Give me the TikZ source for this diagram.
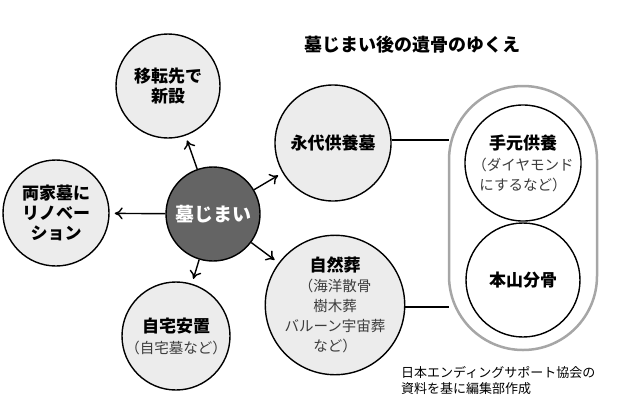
\documentclass[tikz,border=0pt]{standalone}
\usepackage{fontspec}
\setmainfont{Noto Sans CJK JP}
\usetikzlibrary{arrows.meta}
\definecolor{circfill}{RGB}{236,236,236}
\definecolor{centerfill}{RGB}{100,100,100}
\definecolor{textgray}{RGB}{60,60,60}
\newcommand{\subtxt}{\fontsize{14.5}{16}\selectfont\mdseries\color{textgray}}
\tikzset{
  bubble/.style={circle, draw, line width=1.4pt, fill=circfill, align=center, inner sep=0pt, font=\fontsize{17}{20}\selectfont\bfseries},
  arr/.style={-{To[length=8pt,width=12pt]}, line width=1.4pt, shorten >=5pt},
}
\begin{document}
\begin{tikzpicture}[x=1pt,y=-1pt]
  \useasboundingbox (0,0) rectangle (620,413);
  % Title
  \node[font=\fontsize{18}{22}\selectfont\bfseries] (title) at (412,45) {墓じまい後の遺骨のゆくえ};
  % Capsule
  \draw[line width=2.5pt, draw=gray!70, rounded corners=74pt] (449,86) rectangle (597,350);
  \node[bubble, minimum size=114pt, fill=white] (temoto) at (523,163) {手元供養\\[1pt]\subtxt（ダイヤモンド\\\subtxt にするなど）};
  \node[bubble, minimum size=114pt, fill=white] (honzan) at (523,280) {本山分骨};
  % Center
  \node[bubble, minimum size=94pt, fill=centerfill, text=white, font=\fontsize{19}{22}\selectfont\bfseries] (center) at (213,214) {墓じまい};
  % Outer circles
  \node[bubble, minimum size=104pt] (iten) at (168,86) {移転先で\\新設};
  \node[bubble, minimum size=106pt] (ryoke) at (56,213) {両家墓に\\リノベー\\ション};
  \node[bubble, minimum size=108pt] (jitaku) at (176,336) {自宅安置\\[1pt]\subtxt（自宅墓など）};
  \node[bubble, minimum size=114pt] (shizen) at (335,305) {自然葬\\\subtxt（海洋散骨\\\subtxt 樹木葬\\\subtxt バルーン宇宙葬\\\subtxt など）};
  \node[bubble, minimum size=116pt] (eitai) at (333,143) {永代供養墓};
  % Arrows
  \foreach \t in {iten, ryoke, jitaku, eitai, shizen}
    \draw[arr] (center) -- (\t);
  % Links to capsule
  \draw[line width=1.4pt] (eitai.east |- 0,140) -- (449,140);
  \draw[line width=1.4pt] (shizen.east |- 0,307) -- (449,307);
  % Credit
  \node[align=left, font=\fontsize{13}{16}\selectfont, anchor=north west, inner sep=0pt] (credit) at (401,366) {日本エンディングサポート協会の\\資料を基に編集部作成};
\end{tikzpicture}
\end{document}
